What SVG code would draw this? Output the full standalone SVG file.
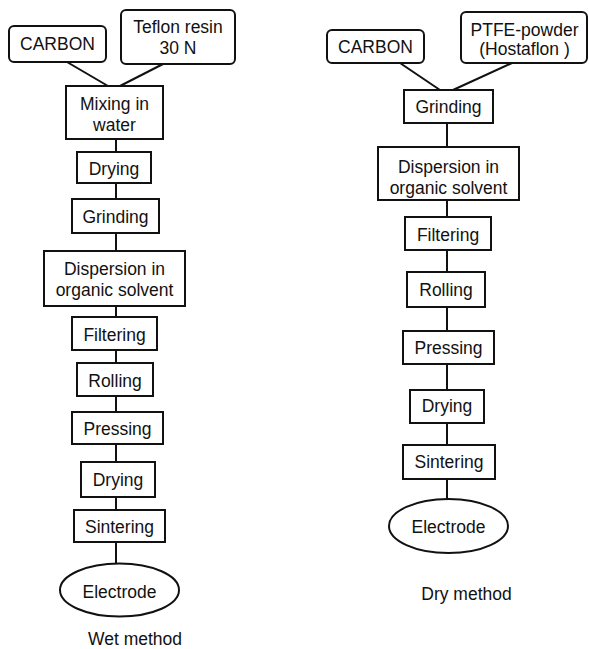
<svg xmlns="http://www.w3.org/2000/svg" width="589" height="649" viewBox="0 0 589 649">
<style>
.b{fill:#fff;stroke:#111;stroke-width:2}
.c{stroke:#111;stroke-width:2;fill:none}
text{font-family:"Liberation Sans",Arial,sans-serif;font-size:17.5px;fill:#111;text-anchor:middle}
</style>
<rect width="589" height="649" fill="#fff"/>
<g id="connectors">
<line class="c" x1="67" y1="62" x2="108" y2="86"/>
<line class="c" x1="163" y1="64" x2="120" y2="86"/>
<line class="c" x1="116" y1="139" x2="116" y2="152"/>
<line class="c" x1="116" y1="183" x2="116" y2="199"/>
<line class="c" x1="116" y1="233" x2="116" y2="251"/>
<line class="c" x1="116" y1="306" x2="116" y2="317"/>
<line class="c" x1="116" y1="350" x2="116" y2="363"/>
<line class="c" x1="116" y1="396" x2="116" y2="412"/>
<line class="c" x1="116" y1="444" x2="116" y2="462"/>
<line class="c" x1="116" y1="497" x2="116" y2="510"/>
<line class="c" x1="116" y1="542" x2="116" y2="564"/>
<line class="c" x1="400" y1="63" x2="440" y2="90"/>
<line class="c" x1="512" y1="63" x2="453" y2="90"/>
<line class="c" x1="447" y1="123" x2="447" y2="147"/>
<line class="c" x1="447" y1="200" x2="447" y2="217"/>
<line class="c" x1="447" y1="250" x2="447" y2="272"/>
<line class="c" x1="447" y1="307" x2="447" y2="331"/>
<line class="c" x1="447" y1="364" x2="447" y2="390"/>
<line class="c" x1="447" y1="423" x2="447" y2="445"/>
<line class="c" x1="447" y1="479" x2="447" y2="499"/>
</g>
<g id="w-carbon"><rect class="b" x="9" y="26" width="97" height="36" rx="5"/><text x="57.5" y="50">CARBON</text></g>
<g id="w-teflon"><rect class="b" x="121" y="10" width="114" height="54" rx="5"/><text x="178" y="33">Teflon resin</text><text x="178" y="54">30 N</text></g>
<g id="w-mixing"><rect class="b" x="66" y="86" width="97" height="53"/><text x="114.5" y="110">Mixing in</text><text x="114.5" y="131">water</text></g>
<g id="w-drying1"><rect class="b" x="77" y="152" width="74" height="31"/><text x="114" y="175">Drying</text></g>
<g id="w-grinding"><rect class="b" x="72" y="199" width="87" height="34"/><text x="115.5" y="223">Grinding</text></g>
<g id="w-dispersion"><rect class="b" x="44" y="251" width="141" height="55"/><text x="114.5" y="274.5">Dispersion in</text><text x="114.5" y="296">organic solvent</text></g>
<g id="w-filtering"><rect class="b" x="72" y="317" width="85" height="33"/><text x="114.5" y="341">Filtering</text></g>
<g id="w-rolling"><rect class="b" x="77" y="363" width="76" height="33"/><text x="115" y="387">Rolling</text></g>
<g id="w-pressing"><rect class="b" x="72" y="412" width="91" height="32"/><text x="117.5" y="435">Pressing</text></g>
<g id="w-drying2"><rect class="b" x="81" y="462" width="74" height="35"/><text x="118" y="485.5">Drying</text></g>
<g id="w-sintering"><rect class="b" x="74" y="510" width="91" height="32"/><text x="119.5" y="532.5">Sintering</text></g>
<g id="w-electrode"><ellipse class="b" cx="119.5" cy="590" rx="59.5" ry="26.5"/><text x="119.5" y="598">Electrode</text></g>
<g id="w-label"><text x="135" y="645">Wet method</text></g>
<g id="d-carbon"><rect class="b" x="327" y="30" width="97" height="33" rx="5"/><text x="375.5" y="53">CARBON</text></g>
<g id="d-ptfe"><rect class="b" x="461" y="12" width="126" height="51" rx="5"/><text x="524.5" y="36">PTFE-powder</text><text x="524.5" y="55">(Hostaflon )</text></g>
<g id="d-grinding"><rect class="b" x="404" y="90" width="89" height="33"/><text x="448.5" y="112.5">Grinding</text></g>
<g id="d-dispersion"><rect class="b" x="378" y="147" width="141" height="53"/><text x="448.5" y="172.5">Dispersion in</text><text x="448.5" y="194">organic solvent</text></g>
<g id="d-filtering"><rect class="b" x="405" y="217" width="86" height="33"/><text x="448" y="241">Filtering</text></g>
<g id="d-rolling"><rect class="b" x="407" y="272" width="78" height="35"/><text x="446" y="296">Rolling</text></g>
<g id="d-pressing"><rect class="b" x="403" y="331" width="91" height="33"/><text x="448.5" y="353.5">Pressing</text></g>
<g id="d-drying"><rect class="b" x="410" y="390" width="74" height="33"/><text x="447" y="412">Drying</text></g>
<g id="d-sintering"><rect class="b" x="403" y="445" width="92" height="34"/><text x="449" y="468">Sintering</text></g>
<g id="d-electrode"><ellipse class="b" cx="448.5" cy="526" rx="59.5" ry="27"/><text x="448.5" y="533">Electrode</text></g>
<g id="d-label"><text x="466.5" y="600">Dry method</text></g>
</svg>
